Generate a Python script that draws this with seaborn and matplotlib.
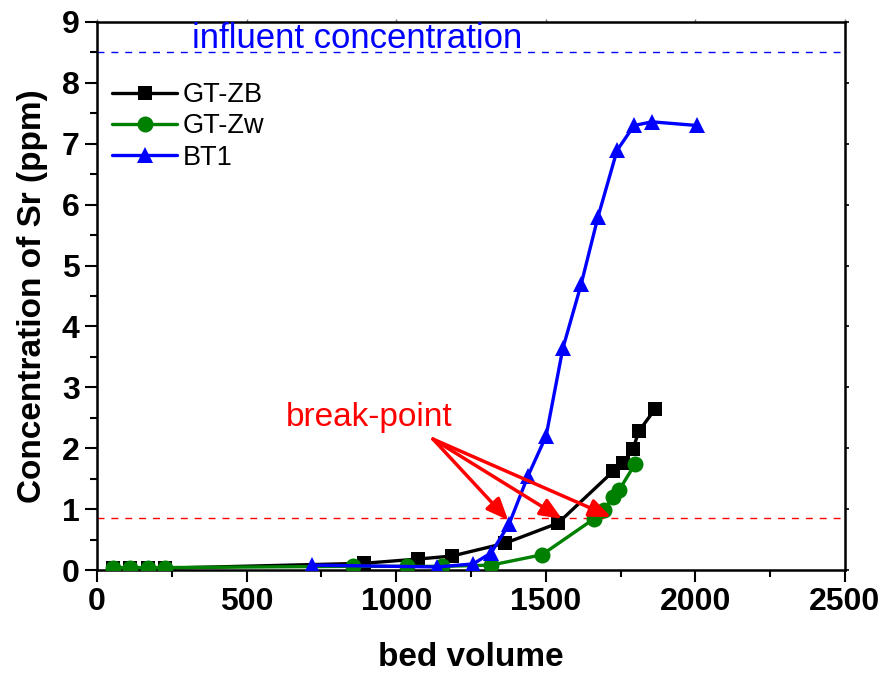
import matplotlib
matplotlib.use("Agg")
import matplotlib.pyplot as plt
import seaborn as sns
import pandas as pd

# ---- data ----
zb_x = [53, 110, 170, 227, 891, 1073, 1187, 1364, 1541, 1725, 1758, 1791, 1811, 1865]
zb_y = [0.03, 0.03, 0.03, 0.03, 0.11, 0.18, 0.23, 0.44, 0.77, 1.62, 1.75, 1.98, 2.28, 2.64]

zw_x = [53, 110, 170, 227, 854, 1036, 1153, 1317, 1487, 1661, 1694, 1725, 1745, 1798]
zw_y = [0.04, 0.04, 0.04, 0.04, 0.06, 0.06, 0.06, 0.08, 0.25, 0.84, 0.98, 1.20, 1.31, 1.74]

bt_x = [719, 1136, 1257, 1317, 1377, 1440, 1501, 1557, 1618, 1674, 1738, 1795, 1855, 2005]
bt_y = [0.08, 0.05, 0.10, 0.28, 0.75, 1.54, 2.20, 3.64, 4.69, 5.79, 6.89, 7.30, 7.36, 7.30]

influent = 8.5
breakpoint_level = 0.85
arrow_tail = (1123, 2.15)
arrow_tips_x = [1374, 1554, 1718]
arrow_tips_y = [0.82, 0.84, 0.87]

x_ticks = [0, 500, 1000, 1500, 2000, 2500]
y_ticks = [0, 1, 2, 3, 4, 5, 6, 7, 8, 9]

sns.set_style("ticks")
plt.rcParams['font.family'] = ['Liberation Sans', 'DejaVu Sans']
plt.rcParams['text.color'] = 'black'
plt.rcParams['axes.labelcolor'] = 'black'
plt.rcParams['xtick.color'] = 'black'
plt.rcParams['ytick.color'] = 'black'

fig = plt.figure(figsize=(8.85, 6.76), dpi=100)
ax = fig.add_axes([0.1096, 0.1568, 0.8452, 0.8107])

df_zb = pd.DataFrame({"x": zb_x, "y": zb_y})
df_zw = pd.DataFrame({"x": zw_x, "y": zw_y})
df_bt = pd.DataFrame({"x": bt_x, "y": bt_y})

sns.lineplot(data=df_zb, x="x", y="y", ax=ax, color="black", marker="s",
             markersize=10, markeredgewidth=0, linewidth=2.4, sort=False,
             label="GT-ZB", zorder=3)
sns.lineplot(data=df_zw, x="x", y="y", ax=ax, color="#008000", marker="o",
             markersize=11.5, markeredgewidth=0, linewidth=2.4, sort=False,
             label="GT-Zw", zorder=4)
sns.lineplot(data=df_bt, x="x", y="y", ax=ax, color="#0000ff", marker="^",
             markersize=12, markeredgewidth=0, linewidth=2.4, sort=False,
             label="BT1", zorder=5)

ax.axhline(influent, color="#0000ff", linestyle=(0, (5, 5)), linewidth=1.0, zorder=2)
ax.axhline(breakpoint_level, color="#ff0000", linestyle=(0, (5, 5)), linewidth=1.0, zorder=2)

ax.text(318, influent - 0.05, "influent concentration", color="#0000ff",
        fontsize=25, ha="left", va="bottom")
ax.text(909, 2.5, "break-point", color="#ff0000", fontsize=24,
        ha="center", va="center")
for tx, ty in zip(arrow_tips_x, arrow_tips_y):
    ax.annotate("", xy=(tx, ty), xytext=arrow_tail,
                arrowprops=dict(arrowstyle="-|>,head_length=1.3,head_width=0.55",
                                color="#ff0000", lw=2.5, shrinkA=0, shrinkB=0),
                zorder=6)

ax.set_xlim(0, 2500)
ax.set_ylim(0, 9)
ax.set_xticks(x_ticks)
ax.set_yticks(y_ticks)
ax.set_xticks([250, 750, 1250, 1750, 2250], minor=True)
ax.set_yticks([0.5 + i for i in range(9)], minor=True)
ax.tick_params(axis="both", which="major", direction="out", length=8.5, width=1.5,
               labelsize=23, pad=4, colors="black")
ax.tick_params(axis="both", which="minor", direction="out", length=5, width=1.5)
for lab in ax.get_xticklabels() + ax.get_yticklabels():
    lab.set_fontweight("bold")

ax.set_xlabel("bed volume", fontsize=24, fontweight="bold", labelpad=18)
ax.set_ylabel("Concentration of Sr (ppm)", fontsize=24, fontweight="bold", labelpad=10)

for sp in ax.spines.values():
    sp.set_visible(True)
    sp.set_linewidth(1.8)
    sp.set_color("black")

# small mirrored ticks on top/right
secx = ax.secondary_xaxis("top")
secx.set_xticks(x_ticks)
secx.tick_params(direction="out", length=2.5, width=1.0, labeltop=False, colors="#777777")
secx.spines["top"].set_visible(False)
secy = ax.secondary_yaxis("right")
secy.set_yticks(y_ticks)
secy.tick_params(direction="out", length=3, width=1.2, labelright=False)
secy.spines["right"].set_visible(False)

leg = ax.legend(loc="upper left", bbox_to_anchor=(-0.005, 0.925), frameon=False,
                fontsize=19.5, handlelength=2.4, handletextpad=0.2,
                labelspacing=0.2, borderaxespad=0.3)
for t in leg.get_texts():
    t.set_color("black")

fig.savefig("out.png", dpi=100)
